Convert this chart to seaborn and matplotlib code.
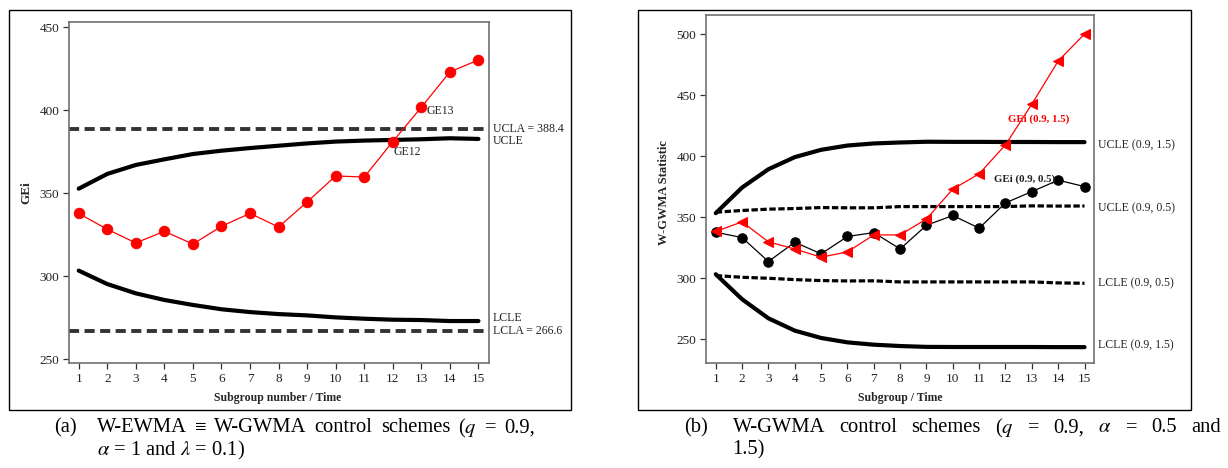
import matplotlib
matplotlib.use("Agg")
import matplotlib.pyplot as plt
from matplotlib.patches import Rectangle
import seaborn as sns

# ---------------- data ----------------
subgroups = list(range(1, 16))

# panel (a)
gei_a = [337.8, 328.2, 320.0, 327.0, 319.3, 330.0, 337.8, 329.6, 344.7, 360.4,
         359.7, 381.1, 401.8, 423.1, 430.3]
ucle_a = [352.7, 361.6, 367.0, 370.4, 373.6, 375.6, 377.2, 378.6, 380.0, 381.1,
          381.7, 382.1, 382.5, 383.1, 382.7]
lcle_a = [303.3, 295.2, 289.6, 285.6, 282.6, 280.0, 278.3, 277.1, 276.3, 275.1,
          274.3, 273.7, 273.5, 272.9, 272.9]
ucla_a = 388.4
lcla_a = 266.6

# panel (b)
gei_b_15 = [338.3, 346.2, 329.8, 324.0, 317.2, 321.6, 335.5, 335.5, 348.6, 373.0,
            385.5, 409.3, 442.6, 477.9, 500.0]
gei_b_05 = [337.7, 333.3, 313.7, 329.5, 320.0, 334.2, 337.4, 324.0, 343.4, 351.4,
            341.0, 361.7, 371.0, 380.3, 375.1]
ucle_b_15 = [353.3, 374.3, 389.3, 399.2, 405.2, 408.7, 410.4, 411.2, 411.8, 411.7,
             411.7, 411.6, 411.6, 411.5, 411.5]
lcle_b_15 = [303.3, 282.8, 267.2, 257.1, 251.1, 247.5, 245.6, 244.5, 243.8, 243.7,
             243.7, 243.7, 243.7, 243.6, 243.6]
ucle_b_05 = [354.1, 355.5, 356.6, 357.1, 357.9, 357.7, 357.7, 358.7, 358.7, 358.7,
             358.7, 358.7, 359.3, 359.1, 359.2]
lcle_b_05 = [302.2, 300.8, 300.0, 298.9, 298.1, 297.8, 297.9, 297.0, 297.0, 297.0,
             297.0, 297.0, 297.0, 296.2, 295.9]

yticks_a = [250, 300, 350, 400, 450]
yticks_b = [250, 300, 350, 400, 450, 500]

caption_a1 = ["W-EWMA", "\u2261", "W-GWMA", "control", "schemes", "($q$", "=", "0.9,"]
caption_a2 = "$\\alpha$ = 1 and $\\lambda$ = 0.1)"
caption_b1 = ["W-GWMA", "control", "schemes", "($q$", "=", "0.9,", "$\\alpha$", "=",
              "0.5", "and"]
caption_b2 = "1.5)"

# ---------------- style ----------------
sns.set_style("white")
plt.rcParams["font.family"] = ["Liberation Serif", "DejaVu Serif"]
plt.rcParams["mathtext.fontset"] = "stix"

W, H = 1228, 468
fig = plt.figure(figsize=(W / 100, H / 100), dpi=100)


def fx(x):
    return x / W


def fy(y):
    return 1 - y / H


def add_axes_px(l, t, r, b):
    return fig.add_axes([fx(l), fy(b), (r - l) / W, (b - t) / H])


# outer boxes
for (l, t, r, b) in [(8.7, 10, 571, 409.5), (638, 10, 1191, 409.5)]:
    fig.add_artist(Rectangle((fx(l), fy(b)), (r - l) / W, (b - t) / H,
                             transform=fig.transFigure, fill=False,
                             edgecolor="black", linewidth=1.0))

spine_col = "#707070"


def style_axes(ax):
    for s in ax.spines.values():
        s.set_color(spine_col)
        s.set_linewidth(1.2)
        s.set_visible(True)
    ax.tick_params(axis="both", direction="out", length=4, width=0.9,
                   color="#333333", labelsize=9.5, pad=3, colors="#222222",
                   bottom=True, left=True)
    ax.set_xticks(subgroups)


# ---------------- panel (a) ----------------
axa = add_axes_px(69, 22, 489, 363)
xa_lim = (0.66, 15.37)
sns.lineplot(x=list(xa_lim), y=[ucla_a, ucla_a], ax=axa, color="#333333", lw=2.8,
             linestyle=(0, (2.6, 1.4)))
sns.lineplot(x=list(xa_lim), y=[lcla_a, lcla_a], ax=axa, color="#333333", lw=2.8,
             linestyle=(0, (2.6, 1.4)))
sns.lineplot(x=subgroups, y=ucle_a, ax=axa, color="black", lw=3.0)
sns.lineplot(x=subgroups, y=lcle_a, ax=axa, color="black", lw=3.0)
sns.lineplot(x=subgroups, y=gei_a, ax=axa, color="#ff0000", lw=0.9,
             marker="o", markersize=7.5, markeredgecolor="#ff0000",
             markerfacecolor="#ff0000")
axa.set_xlim(*xa_lim)
axa.set_ylim(247.6, 453.2)
axa.set_yticks(yticks_a)
style_axes(axa)
axa.set_xlabel("Subgroup number / Time", fontsize=8.5, fontweight="bold")
axa.set_ylabel("GEi", fontsize=9.5, fontweight="bold")
axa.xaxis.set_label_coords(0.497, (363 - 392) / 341)
axa.yaxis.set_label_coords((32 - 69) / 420, 0.4985)
axa.text(13.19, 399.5, "GE13", fontsize=8.5, ha="left", va="center",
         color="#222222")
axa.text(12.03, 374.8, "GE12", fontsize=8.5, ha="left", va="center",
         color="#222222")
for txt, y in [("UCLA = 388.4", 129.3), ("UCLE", 140.5), ("LCLE", 318.3),
               ("LCLA = 266.6", 331)]:
    fig.text(fx(493), fy(y), txt, fontsize=8.5, ha="left", va="center",
             color="#222222")

# ---------------- panel (b) ----------------
axb = add_axes_px(706, 15, 1094, 363)
sns.lineplot(x=subgroups, y=ucle_b_15, ax=axb, color="black", lw=3.0)
sns.lineplot(x=subgroups, y=lcle_b_15, ax=axb, color="black", lw=3.0)
sns.lineplot(x=subgroups, y=ucle_b_05, ax=axb, color="black", lw=2.3,
             linestyle=(0, (2.0, 0.8)))
sns.lineplot(x=subgroups, y=lcle_b_05, ax=axb, color="black", lw=2.3,
             linestyle=(0, (2.0, 0.8)))
sns.lineplot(x=subgroups, y=gei_b_05, ax=axb, color="black", lw=0.9,
             marker="o", markersize=6.8, markeredgecolor="black",
             markerfacecolor="black")
sns.lineplot(x=subgroups, y=gei_b_15, ax=axb, color="#ff0000", lw=0.9,
             marker="<", markersize=6.5, markeredgecolor="#ff0000",
             markerfacecolor="#ff0000")
axb.set_xlim(0.63, 15.36)
axb.set_ylim(230.6, 515.6)
axb.set_yticks(yticks_b)
style_axes(axb)
axb.set_xlabel("Subgroup / Time", fontsize=8.5, fontweight="bold")
axb.set_ylabel("W-GWMA Statistic", fontsize=9, fontweight="bold")
axb.xaxis.set_label_coords(0.5, (363 - 392) / 348)
axb.yaxis.set_label_coords((670 - 706) / 388, 0.491)
fig.text(fx(1008), fy(119), "GEi (0.9, 1.5)", fontsize=7.8, fontweight="bold",
         color="#ff0000", ha="left", va="center")
fig.text(fx(994), fy(179), "GEi (0.9, 0.5)", fontsize=7.8, fontweight="bold",
         color="#222222", ha="left", va="center")
for txt, y in [("UCLE (0.9, 1.5)", 145), ("UCLE (0.9, 0.5)", 208),
               ("LCLE (0.9, 0.5)", 283), ("LCLE (0.9, 1.5)", 345.7)]:
    fig.text(fx(1097.7), fy(y), txt, fontsize=8.5, ha="left", va="center",
             color="#222222")

# ---------------- captions (justified first lines) ----------------
cap = dict(fontsize=14.8, ha="left", va="center", color="black")
renderer = fig.canvas.get_renderer()


def place_words(words, x0, y, gap=None, x_end=None):
    texts = [fig.text(fx(x0), fy(y), w, **cap) for w in words]
    widths = [t.get_window_extent(renderer).width for t in texts]
    if gap is None:
        gap = (x_end - x0 - sum(widths)) / (len(words) - 1)
    x = x0
    for t, wd in zip(texts, widths):
        t.set_x(fx(x))
        x += wd + gap


fig.text(fx(54), fy(428), "(a)", **cap)
place_words(caption_a1, 97, 428, gap=8.0)
fig.text(fx(97), fy(450), caption_a2, **cap)
fig.text(fx(684), fy(428), "(b)", **cap)
place_words(caption_b1, 732.6, 428, x_end=1221)
fig.text(fx(732.6), fy(450), caption_b2, **cap)

fig.savefig("out.png", dpi=100)
